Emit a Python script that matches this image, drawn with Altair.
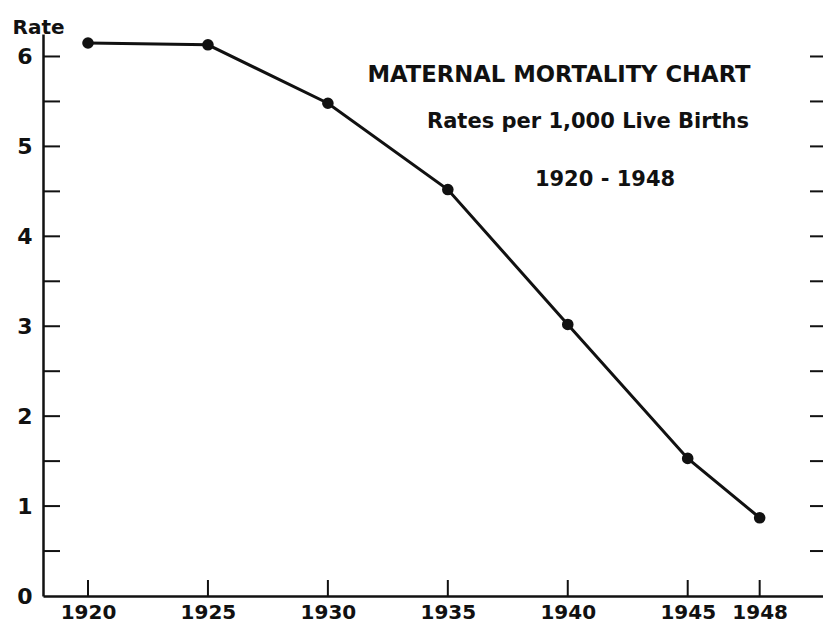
import altair as alt
import pandas as pd

# ---- data ----
years = [1920, 1925, 1930, 1935, 1940, 1945, 1948]
rates = [6.15, 6.13, 5.48, 4.52, 3.02, 1.53, 0.87]
y_label_values = [0, 1, 2, 3, 4, 5, 6]
y_tick_values = [0.5, 1, 1.5, 2, 2.5, 3, 3.5, 4, 4.5, 5, 5.5, 6]
title_main = "MATERNAL MORTALITY CHART"
title_sub = "Rates per 1,000 Live Births"
title_years = "1920 - 1948"
y_title = "Rate"

df = pd.DataFrame({"year": years, "rate": rates})
ticks_x = pd.DataFrame({"year": years})
ticks_y = pd.DataFrame({"rate": y_tick_values})
one = pd.DataFrame({"k": [0]})

W, H = 780, 562
INK = "#111111"
FONT = "DejaVu Sans"

xscale = alt.Scale(domain=[1918.124, 1950.64], nice=False, zero=False)
yscale = alt.Scale(domain=[0, 6.25], nice=False, zero=True)

x_axis = alt.Axis(values=years, format="d", title=None, ticks=False, tickSize=0,
                  grid=False, domainColor=INK, domainWidth=2.5,
                  labelFont=FONT, labelFontSize=20, labelFontWeight="bold",
                  labelColor=INK, labelPadding=6)
y_axis = alt.Axis(values=y_label_values, format="d", title=y_title, ticks=False, tickSize=0,
                  grid=False, domainColor=INK, domainWidth=2.5,
                  labelFont=FONT, labelFontSize=22, labelFontWeight="bold",
                  labelColor=INK, labelPadding=11,
                  titleAngle=0, titleAlign="left", titleBaseline="middle",
                  titleX=-31, titleY=-7, titleFont=FONT, titleFontSize=20,
                  titleFontWeight="bold", titleColor=INK)

X = alt.X("year:Q", scale=xscale, axis=x_axis)
Y = alt.Y("rate:Q", scale=yscale, axis=y_axis)

base = alt.Chart(df)
line = base.mark_line(color=INK, strokeWidth=3).encode(x=X, y=Y)
points = base.mark_circle(size=135, color=INK, opacity=1).encode(x=X, y=Y)

xt = alt.Chart(ticks_x).mark_rule(color=INK, strokeWidth=2).encode(
    x=X, y=alt.value(H), y2=alt.value(H - 16),
)
yt_left = alt.Chart(ticks_y).mark_rule(color=INK, strokeWidth=2).encode(
    y=Y, x=alt.value(0), x2=alt.value(17),
)
yt_right = alt.Chart(ticks_y).mark_rule(color=INK, strokeWidth=2).encode(
    y=Y, x=alt.value(W - 13), x2=alt.value(W),
)


def label(txt, cx, cy, size):
    return alt.Chart(one).mark_text(
        font=FONT, fontSize=size, fontWeight="bold", color=INK,
        align="center", baseline="middle",
    ).encode(x=alt.value(cx), y=alt.value(cy), text=alt.value(txt))


t1 = label(title_main, 516, 41, 22.7)
t2 = label(title_sub, 545, 88, 21)
t3 = label(title_years, 562, 146, 21)

chart = alt.layer(line, points, xt, yt_left, yt_right, t1, t2, t3).properties(
    width=W, height=H,
    padding={"left": 35, "top": 26, "right": 0, "bottom": 26},
    autosize=alt.AutoSizeParams(type="none"),
    background="white",
).configure_view(stroke=None)

chart.save("out.html", embed_options={"renderer": "svg", "actions": False})
